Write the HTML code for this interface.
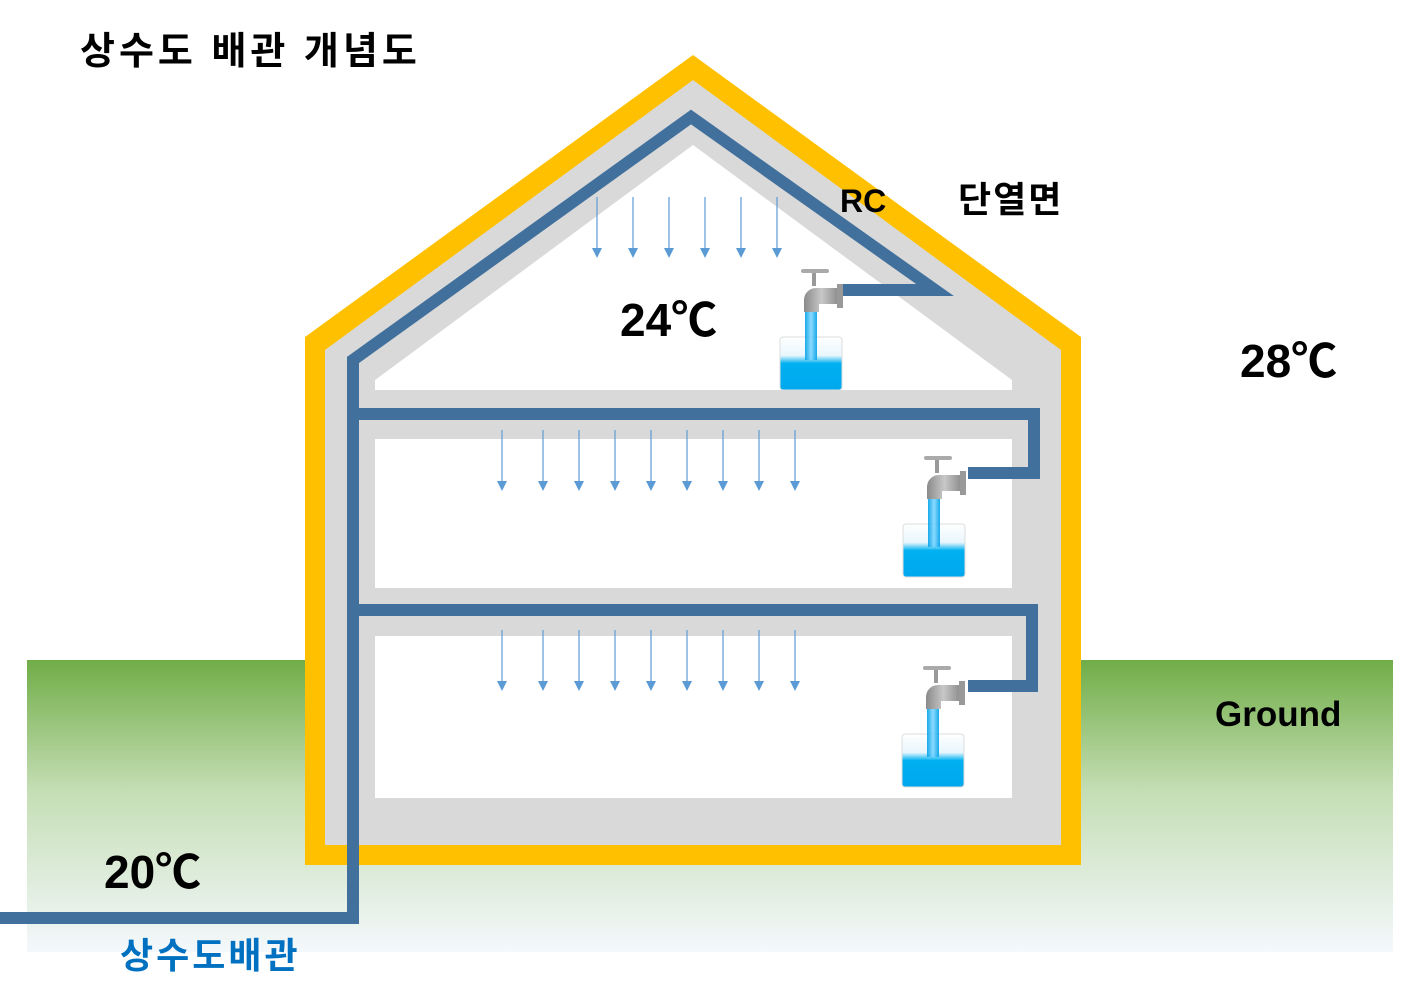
<!DOCTYPE html>
<html><head><meta charset="utf-8"><style>
body{margin:0;background:#fff}
svg text{font-family:"Liberation Sans","Noto Sans CJK KR",sans-serif;font-weight:bold}
</style></head><body>
<svg width="1423" height="998" viewBox="0 0 1423 998" xmlns="http://www.w3.org/2000/svg">
<defs>
<linearGradient id="g" x1="0" y1="0" x2="0" y2="1">
<stop offset="0" stop-color="#70ad47"/><stop offset="0.45" stop-color="#c5deb5"/><stop offset="1" stop-color="#f4f8fc"/></linearGradient>
<linearGradient id="w" x1="0" y1="0" x2="0" y2="1">
<stop offset="0" stop-color="#fff"/><stop offset="0.35" stop-color="#e8f6fd"/><stop offset="0.5" stop-color="#00b0f0"/><stop offset="1" stop-color="#00a8ee"/></linearGradient>
<linearGradient id="s" x1="0" y1="0" x2="1" y2="0">
<stop offset="0" stop-color="#00a0e8"/><stop offset="0.5" stop-color="#7fd6ff"/><stop offset="1" stop-color="#00a0e8"/></linearGradient>
<linearGradient id="m" x1="0" y1="0" x2="1" y2="0">
<stop offset="0" stop-color="#8a8a8a"/><stop offset="0.5" stop-color="#c8c8c8"/><stop offset="1" stop-color="#8a8a8a"/></linearGradient>
<g id="ar"><line x1="0" y1="0" x2="0" y2="52" stroke="#5b9bd5" stroke-width="1.2"/><path d="M-5,51 L5,51 L0,61Z" fill="#5b9bd5"/></g>
<g id="tap">
<rect x="-31" y="55" width="62" height="53" rx="3" fill="url(#w)" stroke="#ddd"/>
<rect x="-6" y="28" width="12" height="50" fill="url(#s)" opacity="0.9"/>
<path d="M-7,30 V18 a12,12 0 0 1 12,-12 H28 V22 H8 V30Z" fill="url(#m)"/>
<rect x="26" y="2" width="6" height="24" fill="#999"/>
<rect x="1" y="-10" width="4" height="14" fill="#999"/>
<rect x="-10" y="-13" width="28" height="4" rx="2" fill="#aaa"/>
</g>
</defs>
<rect x="27" y="660" width="1366" height="292" fill="url(#g)"/>
<polygon points="693,55 1081,337 1081,865 305,865 305,337" fill="#ffc000"/>
<polygon points="693,80 1061,350 1061,845 325,845 325,350" fill="#d9d9d9"/>
<polygon points="693,145 1012,380 1012,390 375,390 375,380" fill="#fff"/>
<rect x="375" y="439" width="637" height="149" fill="#fff"/>
<rect x="375" y="636" width="637" height="162" fill="#fff"/>
<g fill="none" stroke="#41709c" stroke-width="12">
<path d="M0,918 H353 V360 L691,117 L935,290 H843"/>
<path d="M353,414 H1034 V473 H968"/>
<path d="M353,610 H1032 V686 H968"/>
</g>
<use href="#ar" x="597" y="197"/><use href="#ar" x="633" y="197"/><use href="#ar" x="669" y="197"/><use href="#ar" x="705" y="197"/><use href="#ar" x="741" y="197"/><use href="#ar" x="777" y="197"/>
<use href="#ar" x="502" y="430"/><use href="#ar" x="543" y="430"/><use href="#ar" x="579" y="430"/><use href="#ar" x="615" y="430"/><use href="#ar" x="651" y="430"/><use href="#ar" x="687" y="430"/><use href="#ar" x="723" y="430"/><use href="#ar" x="759" y="430"/><use href="#ar" x="795" y="430"/>
<use href="#ar" x="502" y="630"/><use href="#ar" x="543" y="630"/><use href="#ar" x="579" y="630"/><use href="#ar" x="615" y="630"/><use href="#ar" x="651" y="630"/><use href="#ar" x="687" y="630"/><use href="#ar" x="723" y="630"/><use href="#ar" x="759" y="630"/><use href="#ar" x="795" y="630"/>
<use href="#tap" x="811" y="282"/>
<use href="#tap" x="934" y="469"/>
<use href="#tap" x="933" y="679"/>
<text x="80" y="64" font-size="38" letter-spacing="4">상수도 배관 개념도</text>
<text x="840" y="212" font-size="32">RC</text>
<text x="958" y="212" font-size="36" letter-spacing="2">단열면</text>
<text x="620" y="336" font-size="46">24℃</text>
<text x="1240" y="377" font-size="46">28℃</text>
<text x="1215" y="726" font-size="35">Ground</text>
<text x="104" y="888" font-size="46">20℃</text>
<text x="120" y="968" font-size="36" fill="#0070c0" letter-spacing="3">상수도배관</text>
</svg>
</body></html>
